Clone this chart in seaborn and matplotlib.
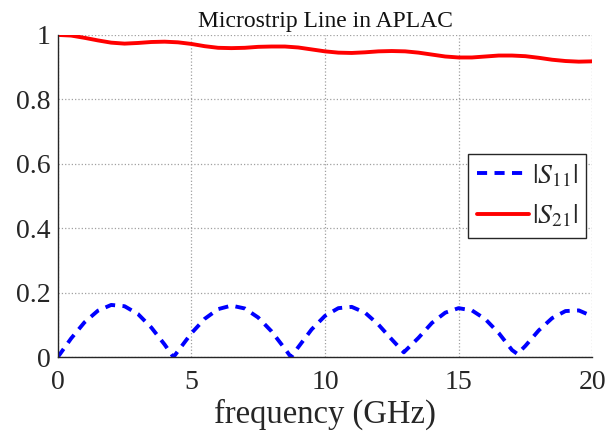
"""
Microstrip line S-parameters (APLAC) - recreated with seaborn.
"""

import matplotlib
matplotlib.use("Agg")
import matplotlib.pyplot as plt
import seaborn as sns
import pandas as pd

# |S11| (extra points at the dips)
freq_s11 = [0.0, 0.5, 1.0, 1.5, 2.0, 2.5, 3.0, 3.5, 4.0, 4.33, 4.5, 5.0, 5.5, 6.0,
            6.5, 7.0, 7.5, 8.0, 8.5, 8.73, 9.0, 9.5, 10.0, 10.5, 11.0, 11.5, 12.0,
            12.5, 12.95, 13.5, 14.0, 14.5, 15.0, 15.5, 16.0, 16.5, 17.0, 17.2,
            17.5, 18.0, 18.5, 19.0, 19.5, 20.0]
s11 = [0.000, 0.058, 0.108, 0.144, 0.162, 0.158, 0.134, 0.092, 0.039, 0.000, 0.019,
       0.074, 0.119, 0.149, 0.160, 0.151, 0.123, 0.080, 0.026, 0.000, 0.031, 0.086,
       0.128, 0.152, 0.156, 0.138, 0.101, 0.055, 0.015, 0.060, 0.106, 0.138, 0.152,
       0.145, 0.118, 0.075, 0.022, 0.010, 0.035, 0.083, 0.121, 0.143, 0.145, 0.127]

# |S21|
freq_s21 = [0.0, 0.5, 1.0, 1.5, 2.0, 2.5, 3.0, 3.5, 4.0, 4.5, 5.0, 5.5, 6.0, 6.5,
            7.0, 7.5, 8.0, 8.5, 9.0, 9.5, 10.0, 10.5, 11.0, 11.5, 12.0, 12.5, 13.0,
            13.5, 14.0, 14.5, 15.0, 15.5, 16.0, 16.5, 17.0, 17.5, 18.0, 18.5, 19.0,
            19.5, 20.0]
s21 = [1.000, 0.998, 0.991, 0.983, 0.976, 0.973, 0.975, 0.978, 0.979, 0.977, 0.972,
       0.965, 0.960, 0.959, 0.960, 0.963, 0.964, 0.964, 0.961, 0.955, 0.949, 0.945,
       0.944, 0.946, 0.949, 0.950, 0.949, 0.945, 0.939, 0.933, 0.930, 0.930, 0.933,
       0.936, 0.936, 0.934, 0.929, 0.923, 0.919, 0.917, 0.918]

x_ticks = [0, 5, 10, 15, 20]
y_ticks = [0, 0.2, 0.4, 0.6, 0.8, 1]
y_tick_labels = ["0", "0.2", "0.4", "0.6", "0.8", "1"]

sns.set_theme(style="white")
plt.rcParams["font.family"] = ["Liberation Serif", "DejaVu Serif"]
plt.rcParams["mathtext.fontset"] = "stix"

df11 = pd.DataFrame({"f": freq_s11, "v": s11})
df21 = pd.DataFrame({"f": freq_s21, "v": s21})

fig = plt.figure(figsize=(6.08, 4.42), dpi=100)
ax = fig.add_axes([0.095, 0.192, 0.879, 0.729])

sns.lineplot(data=df11, x="f", y="v", ax=ax, color="#0000ff", linewidth=2.8,
             linestyle=(0, (2.6, 1.9)), label=r"$|S_{11}|$")
sns.lineplot(data=df21, x="f", y="v", ax=ax, color="#ff0000", linewidth=2.8,
             label=r"$|S_{21}|$")

ax.set_xlim(0, 20)
ax.set_ylim(0, 1)
ax.set_xticks(x_ticks)
ax.set_yticks(y_ticks)
ax.set_yticklabels(y_tick_labels)
ax.tick_params(direction="in", length=4, width=1, labelsize=20, colors="#262626",
               pad=5)
ax.tick_params(axis="x", pad=9)

ax.grid(True, linestyle=":", color="#a0a0a0", linewidth=0.9)
for side in ["top", "right"]:
    ax.spines[side].set_visible(False)
for side in ["left", "bottom"]:
    ax.spines[side].set_color("#262626")
    ax.spines[side].set_linewidth(1.0)

ax.set_xlabel("frequency (GHz)", fontsize=23.5, color="#262626", labelpad=3)
ax.set_ylabel("")
ax.set_title("Microstrip Line in APLAC", fontsize=17, color="#111111", pad=6)

leg = ax.legend(loc="upper right", bbox_to_anchor=(0.989, 0.63), fontsize=20,
                frameon=True, fancybox=False, framealpha=1, edgecolor="#262626",
                handlelength=1.9, handletextpad=0.1, borderpad=0.3,
                labelspacing=0.5, borderaxespad=0)
leg.get_frame().set_linewidth(1.0)

fig.savefig("out.png", dpi=100)
